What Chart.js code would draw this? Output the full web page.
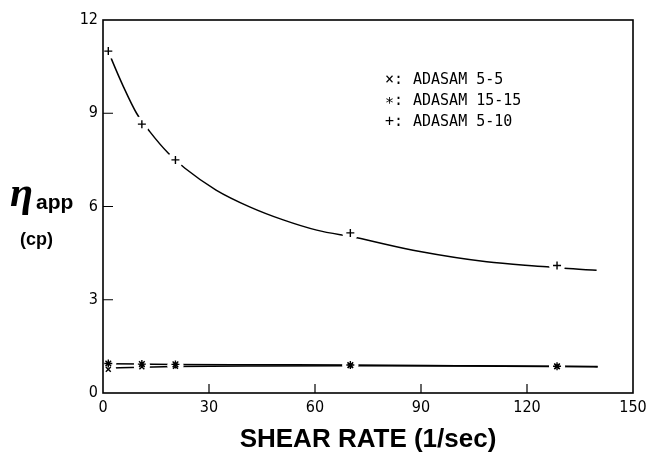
<!DOCTYPE html>
<html>
<head>
<meta charset="utf-8">
<script src="https://cdn.jsdelivr.net/npm/chart.js@4.4.0/dist/chart.umd.min.js"></script>
<style>
  body { margin: 0; background: #fff; }
</style>
</head>
<body>
<canvas id="myChart" width="646" height="453"></canvas>
<script>
// shear rate (1/sec) of the measured points
const shearRate = [1.5, 11, 20.5, 70, 128.5];
// apparent viscosity (cp)
const visc5_5 = [0.76, 0.84, 0.86, 0.88, 0.85];
const visc15_15 = [0.95, 0.93, 0.92, 0.90, 0.86];
const visc5_10 = [11.0, 8.65, 7.5, 5.15, 4.1];

// fitted curves
const fitRate = [1.5, 2.7, 5.8, 9.5, 13.3, 18.5, 23.2, 32, 41.5, 51, 60.5, 71.5, 89.7, 108.6, 125.6, 130.5, 139.7];
const fit5_10 = [11.0, 10.66, 9.85, 9.0, 8.4, 7.71, 7.23, 6.53, 5.99, 5.57, 5.24, 5.0, 4.55, 4.22, 4.06, 4.01, 3.95];
const fitRateLow = [1.5, 11, 20.5, 45, 70, 100, 128.5, 140];
const fit5_5 = [0.80, 0.83, 0.85, 0.87, 0.88, 0.87, 0.85, 0.84];
const fit15_15 = [0.94, 0.93, 0.92, 0.91, 0.90, 0.88, 0.86, 0.85];

const xTicks = [0, 30, 60, 90, 120, 150];
const yTicks = [0, 3, 6, 9, 12];
const legendMarks = ['×:', '∗:', '+:'];
const legendNames = ['ADASAM 5-5', 'ADASAM 15-15', 'ADASAM 5-10'];

function pts(xs, ys) {
   return xs.map((v, i) => ({x: v, y: ys[i]}));
}
function lineSet(xs, ys) {
   return {data: pts(xs, ys), showLine: true, borderColor: '#000', borderWidth: 1.5,
      pointRadius: 0, cubicInterpolationMode: 'monotone', order: 3};
}
function maskSet(ys) {
   return {data: pts(shearRate, ys), showLine: false, pointStyle: 'circle', pointRadius: 8,
      pointBorderWidth: 0, pointBackgroundColor: '#fff', pointBorderColor: '#fff', order: 2};
}
function markSet(ys, style, r) {
   return {data: pts(shearRate, ys), showLine: false, pointStyle: style, pointRadius: r,
      pointBorderWidth: 1.4, pointBorderColor: '#000', pointBackgroundColor: '#000', order: 1};
}

const tickFont = '"Liberation Sans Narrow", "DejaVu Sans Condensed", "Liberation Sans", sans-serif';

const annotate = {
   id: 'annotate',
   afterDraw(chart) {
      const {ctx, chartArea: a, scales: {x, y}} = chart;
      ctx.save();
      ctx.strokeStyle = '#000';
      ctx.lineWidth = 1.6;
      ctx.strokeRect(a.left, a.top, a.width, a.height);
      // inward ticks
      ctx.lineWidth = 1.2;
      ctx.beginPath();
      x.ticks.forEach(t => {
         if (t.value <= x.min || t.value >= x.max) return;
         const px = x.getPixelForValue(t.value);
         ctx.moveTo(px, a.bottom); ctx.lineTo(px, a.bottom - 9);
      });
      y.ticks.forEach(t => {
         if (t.value <= y.min || t.value >= y.max) return;
         const py = y.getPixelForValue(t.value);
         ctx.moveTo(a.left, py); ctx.lineTo(a.left + 10, py);
      });
      ctx.stroke();

      // y axis title
      ctx.fillStyle = '#000';
      ctx.textBaseline = 'alphabetic';
      ctx.textAlign = 'left';
      ctx.font = 'italic bold 42px "Liberation Serif", "DejaVu Serif", serif';
      ctx.fillText('η', 10, 206);
      ctx.font = 'bold 21px "Liberation Sans", Arial, sans-serif';
      ctx.fillText('app', 36, 209);
      ctx.font = 'bold 18px "Liberation Sans", Arial, sans-serif';
      ctx.fillText('(cp)', 20, 245);

      // legend
      ctx.font = '15px "DejaVu Sans Mono", monospace';
      ctx.textBaseline = 'middle';
      legendNames.forEach((name, i) => {
         const ly = 80 + i * 21;
         ctx.fillText(legendMarks[i], 385, ly);
         ctx.fillText(name, 413, ly);
      });
      ctx.restore();
   }
};

const ctx = document.getElementById('myChart');
var chart = new Chart(ctx, {
   type: 'scatter',
   data: {
      datasets: [
         lineSet(fitRate, fit5_10),
         lineSet(fitRateLow, fit15_15),
         lineSet(fitRateLow, fit5_5),
         maskSet(visc5_10),
         maskSet(visc15_15),
         maskSet(visc5_5),
         markSet(visc5_10, 'cross', 4),
         markSet(visc15_15, 'star', 4),
         markSet(visc5_5, 'crossRot', 3.5)
      ]
   },
   options: {
      responsive: false,
      animation: false,
      layout: {padding: {left: 0, right: 13, top: 20, bottom: 0}},
      plugins: {legend: {display: false}, tooltip: {enabled: false}},
      scales: {
         x: {
            type: 'linear', min: 0, max: 150,
            afterBuildTicks: s => { s.ticks = xTicks.map(v => ({value: v})); },
            afterFit: s => { s.height = 60; s.paddingLeft = 0; s.paddingRight = 0; },
            grid: {display: false, drawTicks: false},
            border: {display: false},
            ticks: {color: '#000', padding: 5, maxRotation: 0, font: {family: tickFont, size: 16}},
            title: {display: true, text: 'SHEAR RATE (1/sec)', color: '#000', padding: 0,
               font: {family: '"Liberation Sans", Arial, sans-serif', size: 26, weight: 'bold', lineHeight: 1}}
         },
         y: {
            type: 'linear', min: 0, max: 12,
            afterBuildTicks: s => { s.ticks = yTicks.map(v => ({value: v})); },
            afterFit: s => { s.width = 103; s.paddingTop = 0; s.paddingBottom = 0; },
            grid: {display: false, drawTicks: false},
            border: {display: false},
            ticks: {color: '#000', padding: 5, font: {family: tickFont, size: 16}}
         }
      }
   },
   plugins: [annotate]
});
</script>
</body>
</html>
